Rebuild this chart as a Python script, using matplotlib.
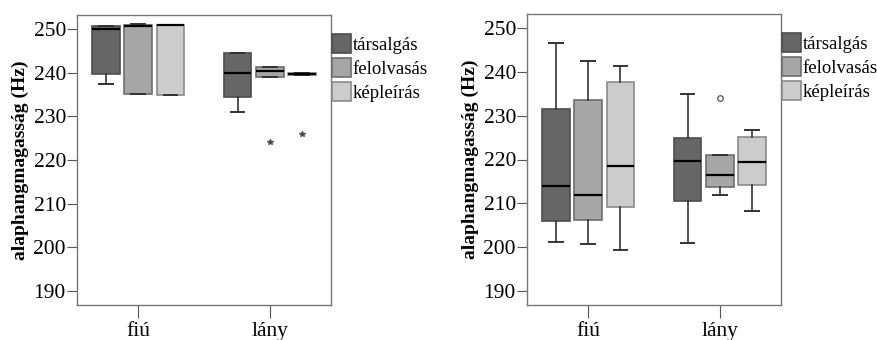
import matplotlib.pyplot as plt
from matplotlib.patches import Patch

plt.rcParams['font.family'] = ['Liberation Serif', 'DejaVu Serif']

groups = ["fiú", "lány"]
tasks = ["társalgás", "felolvasás", "képleírás"]
colors = ["#666666", "#a6a6a6", "#cccccc"]
edges = ["#4d4d4d", "#6e6e6e", "#8a8a8a"]

# left chart: [fiú, lány] for each task -> (whislo, q1, med, q3, whishi, fliers)
left_stats = {
    "társalgás": [(237.4, 239.8, 250.1, 250.8, 250.8, []),
                  (231.1, 234.5, 240.0, 244.6, 244.6, [])],
    "felolvasás": [(235.1, 235.1, 250.8, 250.9, 251.3, []),
                   (239.05, 239.05, 240.35, 241.4, 241.4, [224.2])],
    "képleírás": [(235.0, 235.0, 251.0, 251.1, 251.1, []),
                  (239.6, 239.6, 239.8, 239.9, 239.9, [225.9])],
}

# right chart
right_stats = {
    "társalgás": [(201.2, 206.0, 214.0, 231.5, 246.6, []),
                  (201.0, 210.6, 219.6, 225.0, 235.0, [])],
    "felolvasás": [(200.7, 206.2, 211.9, 233.6, 242.6, []),
                   (211.8, 213.7, 216.5, 221.1, 221.1, [234.1])],
    "képleírás": [(199.3, 209.2, 218.4, 237.7, 241.5, []),
                  (208.1, 214.1, 219.4, 225.1, 226.8, [])],
}

yticks = [190, 200, 210, 220, 230, 240, 250]


def draw_panel(ax, stats, flier_marker):
    offsets = [-0.245, 0.0, 0.245]
    for k, task in enumerate(tasks):
        items = []
        for lo, q1, med, q3, hi, fl in stats[task]:
            items.append(dict(whislo=lo, q1=q1, med=med, q3=q3, whishi=hi, fliers=fl))
        pos = [g + offsets[k] for g in range(len(groups))]
        ax.bxp(items, positions=pos, widths=0.21, patch_artist=True,
               capwidths=0.105, manage_ticks=False,
               boxprops=dict(facecolor=colors[k], edgecolor=edges[k], linewidth=1.2),
               medianprops=dict(color="black", linewidth=1.6),
               whiskerprops=dict(color="#333333", linewidth=1.2),
               capprops=dict(color="#333333", linewidth=1.4),
               flierprops=dict(marker=flier_marker, markersize=4,
                               markerfacecolor="none" if flier_marker == "o" else "#333333",
                               markeredgecolor="#555555", markeredgewidth=0.9))
    ax.set_xlim(-0.465, 1.465)
    ax.set_ylim(186.7, 253.3)
    ax.set_yticks(yticks)
    ax.set_xticks(range(len(groups)))
    ax.set_xticklabels(groups)
    ax.tick_params(axis="y", labelsize=15.5, length=7, color="#555555", pad=1)
    ax.tick_params(axis="x", labelsize=15.5, length=9.5, color="#555555", pad=3)
    for s in ax.spines.values():
        s.set_color("#777777")
        s.set_linewidth(1.0)
    ax.set_ylabel("alaphangmagasság (Hz)", fontsize=14, fontweight="bold", labelpad=3)
    handles = [Patch(facecolor=colors[k], edgecolor=edges[k], linewidth=1.2, label=tasks[k])
               for k in range(len(tasks))]
    ax.legend(handles=handles, loc="upper left", bbox_to_anchor=(1.002, 0.935),
              frameon=False, fontsize=13.5, handlelength=1.05, handleheight=1.2,
              handletextpad=0.08, labelspacing=0.22, borderaxespad=0, borderpad=0)


fig = plt.figure(figsize=(8.77, 3.4), dpi=100)
ax1 = fig.add_axes([77 / 877, 35 / 340, 254 / 877, 290 / 340])
ax2 = fig.add_axes([527 / 877, 35 / 340, 254 / 877, 291 / 340])

draw_panel(ax1, left_stats, "*")
draw_panel(ax2, right_stats, "o")

fig.savefig("out.png", dpi=100)
